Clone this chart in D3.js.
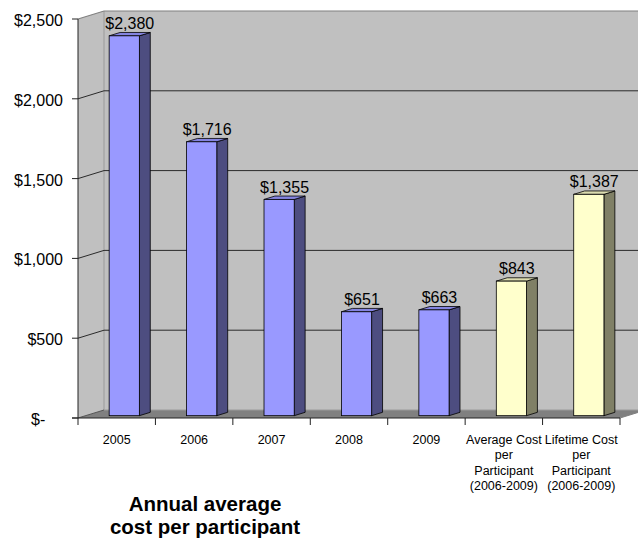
<!DOCTYPE html>
<html>
<head>
<meta charset="utf-8">
<script src="https://cdn.jsdelivr.net/npm/d3@7"></script>
<style>
  html, body { margin: 0; padding: 0; background: #fff; }
  svg { display: block; font-family: "Liberation Sans", Arial, sans-serif; }
</style>
</head>
<body>
<svg id="chart" width="638" height="542"></svg>
<script>
// Category labels (multi-line labels split into lines)
const categories = [
  ["2005"],
  ["2006"],
  ["2007"],
  ["2008"],
  ["2009"],
  ["Average Cost", "per", "Participant", "(2006-2009)"],
  ["Lifetime Cost", "per", "Participant", "(2006-2009)"]
];
// Cost per participant, in dollars
const values = [2380, 1716, 1355, 651, 663, 843, 1387];
const valueLabels = ["$2,380", "$1,716", "$1,355", "$651", "$663", "$843", "$1,387"];
// Series kind: annual figures vs. summary figures
const kinds = ["annual", "annual", "annual", "annual", "annual", "summary", "summary"];
// Value axis
const tickValues = [0, 500, 1000, 1500, 2000, 2500];
const tickLabels = ["$-    ", "$500", "$1,000", "$1,500", "$2,000", "$2,500"];
const titleLines = ["Annual average", "cost per participant"];

const palette = {
  annual:  { front: "#9999ff", side: "#4d4d80", top: "#8484e0" },
  summary: { front: "#ffffcc", side: "#808066", top: "#dcdcb0" }
};

const svg = d3.select("#chart");

// Front plane of the plot box and the depth offset to the back wall
const left = 78, right = 620;
const depthX = 26, depthY = -8;

const x = d3.scaleBand().domain(d3.range(categories.length)).range([left, right]).padding(0);
const y = d3.scaleLinear().domain([0, 2500]).range([418, 19]);

const pt = (px, py) => px + "," + py;
const poly = (pts) => pts.map(p => pt(p[0], p[1])).join(" ");

// Walls and floor
const yTop = y(2500), yBase = y(0);
svg.append("polygon") // side wall
  .attr("points", poly([[left, yBase], [left, yTop], [left + depthX, yTop + depthY], [left + depthX, yBase + depthY]]))
  .attr("fill", "#c0c0c0");
svg.append("polygon") // back wall
  .attr("points", poly([[left + depthX, yBase + depthY], [left + depthX, yTop + depthY], [right + depthX, yTop + depthY], [right + depthX, yBase + depthY]]))
  .attr("fill", "#c0c0c0");
svg.append("polygon") // floor
  .attr("points", poly([[left, yBase], [right, yBase], [right + depthX, yBase + depthY], [left + depthX, yBase + depthY]]))
  .attr("fill", "#808080");

// Wall edges
svg.append("line")
  .attr("x1", left + depthX).attr("y1", yTop + depthY)
  .attr("x2", left + depthX).attr("y2", yBase + depthY)
  .attr("stroke", "#9a9a9a").attr("stroke-width", 1);
svg.append("polyline")
  .attr("points", poly([[left, yTop], [left + depthX, yTop + depthY], [right + depthX + 20, yTop + depthY]]))
  .attr("fill", "none").attr("stroke", "#808080").attr("stroke-width", 1.2);
svg.append("line") // floor right edge
  .attr("x1", right).attr("y1", yBase)
  .attr("x2", right + depthX).attr("y2", yBase + depthY)
  .attr("stroke", "#808080").attr("stroke-width", 1);
svg.append("line") // floor back edge
  .attr("x1", left + depthX).attr("y1", yBase + depthY)
  .attr("x2", right + depthX).attr("y2", yBase + depthY)
  .attr("stroke", "#9a9a9a").attr("stroke-width", 1);

// Gridlines: along the side wall, then across the back wall
const grid = svg.append("g");
tickValues.filter(v => v > 0 && v < 2500).forEach(v => {
  grid.append("polyline")
    .attr("points", poly([[left, y(v)], [left + depthX, y(v) + depthY], [right + depthX + 20, y(v) + depthY]]))
    .attr("fill", "none").attr("stroke", "#2a2a2a").attr("stroke-width", 1);
});
grid.append("line")
  .attr("x1", left).attr("y1", y(0)).attr("x2", left + depthX).attr("y2", y(0) + depthY)
  .attr("stroke", "#555").attr("stroke-width", 1);

// Value axis: vertical line, ticks and labels
svg.append("line")
  .attr("x1", left).attr("y1", yTop).attr("x2", left).attr("y2", yBase)
  .attr("stroke", "#222").attr("stroke-width", 1);
const yTicks = svg.append("g");
tickValues.forEach((v, i) => {
  yTicks.append("line")
    .attr("x1", left - 6).attr("x2", left).attr("y1", y(v)).attr("y2", y(v))
    .attr("stroke", "#222").attr("stroke-width", 1);
  yTicks.append("text")
    .attr("x", 63).attr("y", y(v) + 7)
    .attr("text-anchor", "end")
    .style("white-space", "pre")
    .attr("font-size", 16)
    .attr("fill", "#000")
    .text(tickLabels[i]);
});

// Category axis: baseline, tick marks and labels
svg.append("line")
  .attr("x1", left - 6).attr("x2", right).attr("y1", yBase).attr("y2", yBase)
  .attr("stroke", "#222").attr("stroke-width", 1);
const xTicks = svg.append("g");
d3.range(categories.length + 1).forEach(i => {
  const xp = i < categories.length ? x(i) : right;
  xTicks.append("line")
    .attr("x1", xp).attr("x2", xp).attr("y1", yBase).attr("y2", yBase + 7)
    .attr("stroke", "#222").attr("stroke-width", 1);
});
categories.forEach((lines, i) => {
  const t = xTicks.append("text")
    .attr("text-anchor", "middle")
    .attr("font-size", 12.5)
    .attr("fill", "#000");
  lines.forEach((ln, j) => {
    t.append("tspan")
      .attr("x", x(i) + x.bandwidth() / 2)
      .attr("y", 444 + j * 15.3)
      .text(ln);
  });
});

// 3-D columns
const barW = x.bandwidth() * 0.39;
const f1 = 0.29, f2 = 0.71; // front and back of each column, as fractions of the depth
const o1 = [f1 * depthX, f1 * depthY], o2 = [f2 * depthX, f2 * depthY];

const bars = svg.append("g").selectAll("g").data(values).join("g");
bars.each(function (v, i) {
  const g = d3.select(this);
  const c = palette[kinds[i]];
  const bx = x(i) + (x.bandwidth() - barW) / 2;
  const y0 = y(0), yv = y(v);
  // side face
  g.append("polygon")
    .attr("points", poly([
      [bx + barW + o1[0], y0 + o1[1]], [bx + barW + o2[0], y0 + o2[1]],
      [bx + barW + o2[0], yv + o2[1]], [bx + barW + o1[0], yv + o1[1]]]))
    .attr("fill", c.side).attr("stroke", "#000").attr("stroke-width", 0.8).attr("stroke-linejoin", "round");
  // top face
  g.append("polygon")
    .attr("points", poly([
      [bx + o1[0], yv + o1[1]], [bx + o2[0], yv + o2[1]],
      [bx + barW + o2[0], yv + o2[1]], [bx + barW + o1[0], yv + o1[1]]]))
    .attr("fill", c.top).attr("stroke", "#000").attr("stroke-width", 0.8).attr("stroke-linejoin", "round");
  // front face
  g.append("rect")
    .attr("x", bx + o1[0]).attr("y", yv + o1[1])
    .attr("width", barW).attr("height", y0 - yv)
    .attr("fill", c.front).attr("stroke", "#000").attr("stroke-width", 0.8);
  // value label
  g.append("text")
    .attr("x", bx + barW / 2 + (o1[0] + o2[0]) / 2)
    .attr("y", yv + o2[1] - 3.5)
    .attr("text-anchor", "middle")
    .attr("font-size", 16)
    .attr("fill", "#000")
    .text(valueLabels[i]);
});

// Chart title
const title = svg.append("text")
  .attr("text-anchor", "middle")
  .attr("font-size", 20.5)
  .attr("font-weight", "bold")
  .attr("fill", "#000");
titleLines.forEach((ln, j) => {
  title.append("tspan").attr("x", 205).attr("y", 511 + j * 23).text(ln);
});
</script>
</body>
</html>
